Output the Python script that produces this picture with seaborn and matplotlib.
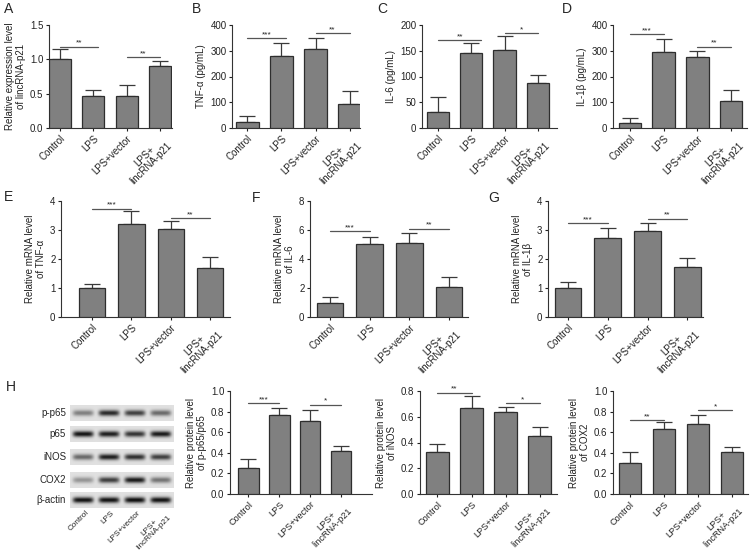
import numpy as np
import pandas as pd
import matplotlib
matplotlib.use("Agg")
import matplotlib.pyplot as plt
import seaborn as sns

# ---------------------------------------------------------------
# Data
# ---------------------------------------------------------------
groups = ["Control", "LPS", "LPS+vector", "LPS+\nlincRNA-p21"]

lnc_mean = [1.00, 0.46, 0.47, 0.90]
lnc_err = [0.15, 0.09, 0.15, 0.07]

tnf_elisa_mean = [25, 280, 305, 93]
tnf_elisa_err = [20, 50, 45, 52]

il6_elisa_mean = [31, 146, 152, 87]
il6_elisa_err = [29, 19, 26, 15]

il1b_elisa_mean = [20, 295, 275, 105]
il1b_elisa_err = [18, 52, 25, 43]

tnf_mrna_mean = [1.00, 3.22, 3.02, 1.70]
tnf_mrna_err = [0.13, 0.42, 0.28, 0.38]

il6_mrna_mean = [1.00, 5.05, 5.07, 2.10]
il6_mrna_err = [0.35, 0.50, 0.75, 0.65]

il1b_mrna_mean = [1.00, 2.72, 2.95, 1.72]
il1b_mrna_err = [0.20, 0.35, 0.28, 0.30]

pp65_mean = [0.25, 0.77, 0.71, 0.42]
pp65_err = [0.085, 0.065, 0.11, 0.045]

inos_mean = [0.33, 0.67, 0.635, 0.45]
inos_err = [0.06, 0.09, 0.04, 0.07]

cox2_mean = [0.30, 0.635, 0.68, 0.405]
cox2_err = [0.105, 0.06, 0.09, 0.055]

# western blot band intensities (0 = none, 1 = strongest)
blot_rows = ["p-p65", "p65", "iNOS", "COX2", "β-actin"]
band_pp65 = [0.45, 0.85, 0.75, 0.55]
band_p65 = [0.95, 0.90, 0.80, 0.92]
band_inos = [0.55, 0.90, 0.82, 0.75]
band_cox2 = [0.35, 0.75, 0.92, 0.50]
band_actin = [0.95, 0.95, 0.97, 0.95]

# ---------------------------------------------------------------
# Style
# ---------------------------------------------------------------
sns.set_style("ticks")
plt.rcParams["font.family"] = ["Liberation Sans", "DejaVu Sans"]
plt.rcParams["axes.linewidth"] = 0.8
plt.rcParams["axes.edgecolor"] = "#333333"

W, H = 750, 551
fig = plt.figure(figsize=(7.5, 5.51), dpi=100)
fig.patch.set_facecolor("white")

BAR_FACE = "#808080"
BAR_EDGE = "#2e2e2e"
SIG_COLOR = "#555555"
TICK_FS = 7
LABEL_FS = 7


def px_rect(x0, x1, y_top, y_bot):
    return [x0 / W, 1 - y_bot / H, (x1 - x0) / W, (y_bot - y_top) / H]


def bar_panel(rect, means, errs, yticks, fmt, ylabel, sigs, xlim, xtick_fs=TICK_FS):
    ax = fig.add_axes(rect)
    df = pd.DataFrame({"group": groups, "value": means})
    sns.barplot(data=df, x="group", y="value", color=BAR_FACE, edgecolor=BAR_EDGE,
                linewidth=0.9, width=0.67, saturation=1, errorbar=None, ax=ax, zorder=3)
    ax.errorbar(range(len(groups)), means, yerr=[np.zeros(len(errs)), errs], fmt="none",
                ecolor="#3a3a3a", elinewidth=0.9, capsize=6, capthick=0.9, zorder=2)
    ax.set_ylim(yticks[0], yticks[-1])
    ax.set_yticks(yticks)
    ax.set_yticklabels([fmt.format(t) for t in yticks])
    ax.set_xlim(*xlim)
    ax.set_xlabel("")
    ax.set_ylabel(ylabel, fontsize=LABEL_FS, linespacing=1.1, color="#222222", labelpad=3)
    ax.tick_params(axis="both", length=2.5, width=0.8, labelsize=TICK_FS, pad=1.5, colors="#222222")
    ax.set_xticks(range(len(groups)))
    ax.set_xticklabels(groups, rotation=45, ha="right", rotation_mode="anchor",
                       multialignment="center", fontsize=xtick_fs, linespacing=1.0)
    sns.despine(ax=ax)
    for x0, x1, y, stars in sigs:
        ax.plot([x0, x1], [y, y], color=SIG_COLOR, lw=0.9, clip_on=False)
        ax.text((x0 + x1) / 2, y, stars, ha="center", va="bottom", fontsize=6, color="#222222")
    return ax


def panel_letter(x, y, s):
    fig.text(x / W, 1 - y / H, s, fontsize=10, ha="left", va="center")


# ---- Row 1 ----
bar_panel(px_rect(49, 172, 25, 128), lnc_mean, lnc_err, [0, 0.5, 1.0, 1.5], "{:.1f}",
          "Relative expression level\nof lincRNA-p21",
          [(0, 1.15, 1.185, "**"), (2, 3, 1.03, "**")], (-0.33, 3.36))
bar_panel(px_rect(232, 360, 25, 128), tnf_elisa_mean, tnf_elisa_err, [0, 100, 200, 300, 400], "{:.0f}",
          "TNF-α (pg/mL)", [(0, 1.15, 348, "***"), (2, 3, 368, "**")], (-0.44, 3.3))
bar_panel(px_rect(422, 557, 25, 128), il6_elisa_mean, il6_elisa_err, [0, 50, 100, 150, 200], "{:.0f}",
          "IL-6 (pg/mL)", [(0, 1.3, 170, "**"), (2, 3, 184, "*")], (-0.48, 3.57))
bar_panel(px_rect(613, 747, 25, 128), il1b_elisa_mean, il1b_elisa_err, [0, 100, 200, 300, 400], "{:.0f}",
          "IL-1β (pg/mL)", [(0, 1, 365, "***"), (2, 3, 316, "**")], (-0.5, 3.47))

# ---- Row 2 ----
bar_panel(px_rect(61, 230, 201, 317), tnf_mrna_mean, tnf_mrna_err, [0, 1, 2, 3, 4], "{:.0f}",
          "Relative mRNA level\nof TNF-α", [(0, 1, 3.74, "***"), (2, 3, 3.41, "**")], (-0.78, 3.5))
bar_panel(px_rect(310, 468, 201, 317), il6_mrna_mean, il6_mrna_err, [0, 2, 4, 6, 8], "{:.0f}",
          "Relative mRNA level\nof IL-6", [(0, 1, 5.93, "***"), (2, 3, 6.09, "**")], (-0.5, 3.48))
bar_panel(px_rect(548, 703, 201, 317), il1b_mrna_mean, il1b_mrna_err, [0, 1, 2, 3, 4], "{:.0f}",
          "Relative mRNA level\nof IL-1β", [(0, 1, 3.24, "***"), (2, 3, 3.39, "**")], (-0.5, 3.39))

# ---- Row 3 ----
bar_panel(px_rect(230, 372, 391, 494), pp65_mean, pp65_err, [0, 0.2, 0.4, 0.6, 0.8, 1.0], "{:.1f}",
          "Relative protein level\nof p-p65/p65", [(0, 1, 0.884, "***"), (2, 3, 0.868, "*")], (-0.59, 4.0),
          xtick_fs=6.6)
bar_panel(px_rect(420, 557, 391, 494), inos_mean, inos_err, [0, 0.2, 0.4, 0.6, 0.8], "{:.1f}",
          "Relative protein level\nof iNOS", [(0, 1, 0.788, "**"), (2, 3, 0.703, "*")], (-0.51, 3.5),
          xtick_fs=6.6)
bar_panel(px_rect(613, 748, 391, 494), cox2_mean, cox2_err, [0, 0.2, 0.4, 0.6, 0.8, 1.0], "{:.1f}",
          "Relative protein level\nof COX2", [(0, 1, 0.717, "**"), (2, 3, 0.813, "*")], (-0.5, 3.47),
          xtick_fs=6.6)

# ---- Western blot strips ----
bands = [band_pp65, band_p65, band_inos, band_cox2, band_actin]
strip_tops = [405, 426, 449, 472, 492]
strip_h = 16
nx, ny = 200, 30
xx = np.linspace(0, 4, nx)
yy = np.linspace(-1, 1, ny)
for name, vals, top in zip(blot_rows, bands, strip_tops):
    ax = fig.add_axes(px_rect(70, 173, top, top + strip_h))
    img = np.full((ny, nx), 0.88)
    for i, v in enumerate(vals):
        xprof = np.exp(-((xx - (i + 0.5)) / 0.4) ** 6)
        yprof = np.exp(-(yy / 0.38) ** 2)
        img -= 0.85 * v * np.outer(yprof, xprof)
    ax.imshow(img, cmap="gray", vmin=0, vmax=1, aspect="auto", extent=(0, 4, 1, -1))
    ax.set_xticks([])
    ax.set_yticks([])
    for s in ax.spines.values():
        s.set_visible(False)
    fig.text(66 / W, 1 - (top + strip_h / 2) / H, name, ha="right", va="center", fontsize=LABEL_FS)
    last = ax

last.set_xticks([0.6, 1.6, 2.6, 3.6])
last.set_xticklabels(groups, rotation=45, ha="right", rotation_mode="anchor",
                     multialignment="center", fontsize=5.9, linespacing=0.95)
last.tick_params(axis="x", length=0, pad=1)

# ---- Panel letters ----
panel_letter(4, 9, "A")
panel_letter(192, 9, "B")
panel_letter(377, 9, "C")
panel_letter(562, 9, "D")
panel_letter(4, 197, "E")
panel_letter(252, 198, "F")
panel_letter(488, 198, "G")
panel_letter(6, 387, "H")

fig.savefig("out.png", dpi=100, facecolor="white")
